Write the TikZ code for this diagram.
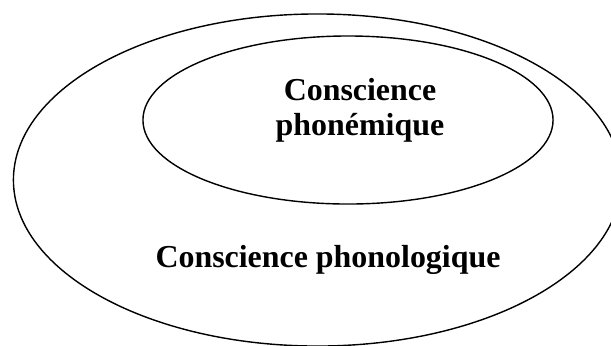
\documentclass[tikz,border=0pt]{standalone}
\usepackage{fontspec}
\setmainfont{Liberation Serif}
\definecolor{linecol}{HTML}{000000}
\definecolor{textcol}{HTML}{000000}
\usetikzlibrary{shapes.geometric}

\tikzset{
  ring/.style={draw=linecol, line width=1pt, ellipse, inner sep=0pt},
  label/.style={textcol, inner sep=0pt, align=center,
    font=\fontsize{22.7}{20}\selectfont\bfseries}
}

\begin{document}
\begin{tikzpicture}[x=0.025cm, y=-0.025cm]

\clip (0,0) rectangle (611,345);

% === OUTER: phonological awareness ===
\node[ring, minimum width=15.2cm, minimum height=8.3cm] (outer) at (317.5,180) {};
\node[label, anchor=base] (phonologique) at (328,267) {Conscience phonologique};

% === INNER: phonemic awareness ===
\node[ring, minimum width=10.25cm, minimum height=4.2cm] (inner) at (348,120) {};
\node[label] (phonemique) at (360,110) {Conscience\\[5pt]phonémique};

\end{tikzpicture}
\end{document}
